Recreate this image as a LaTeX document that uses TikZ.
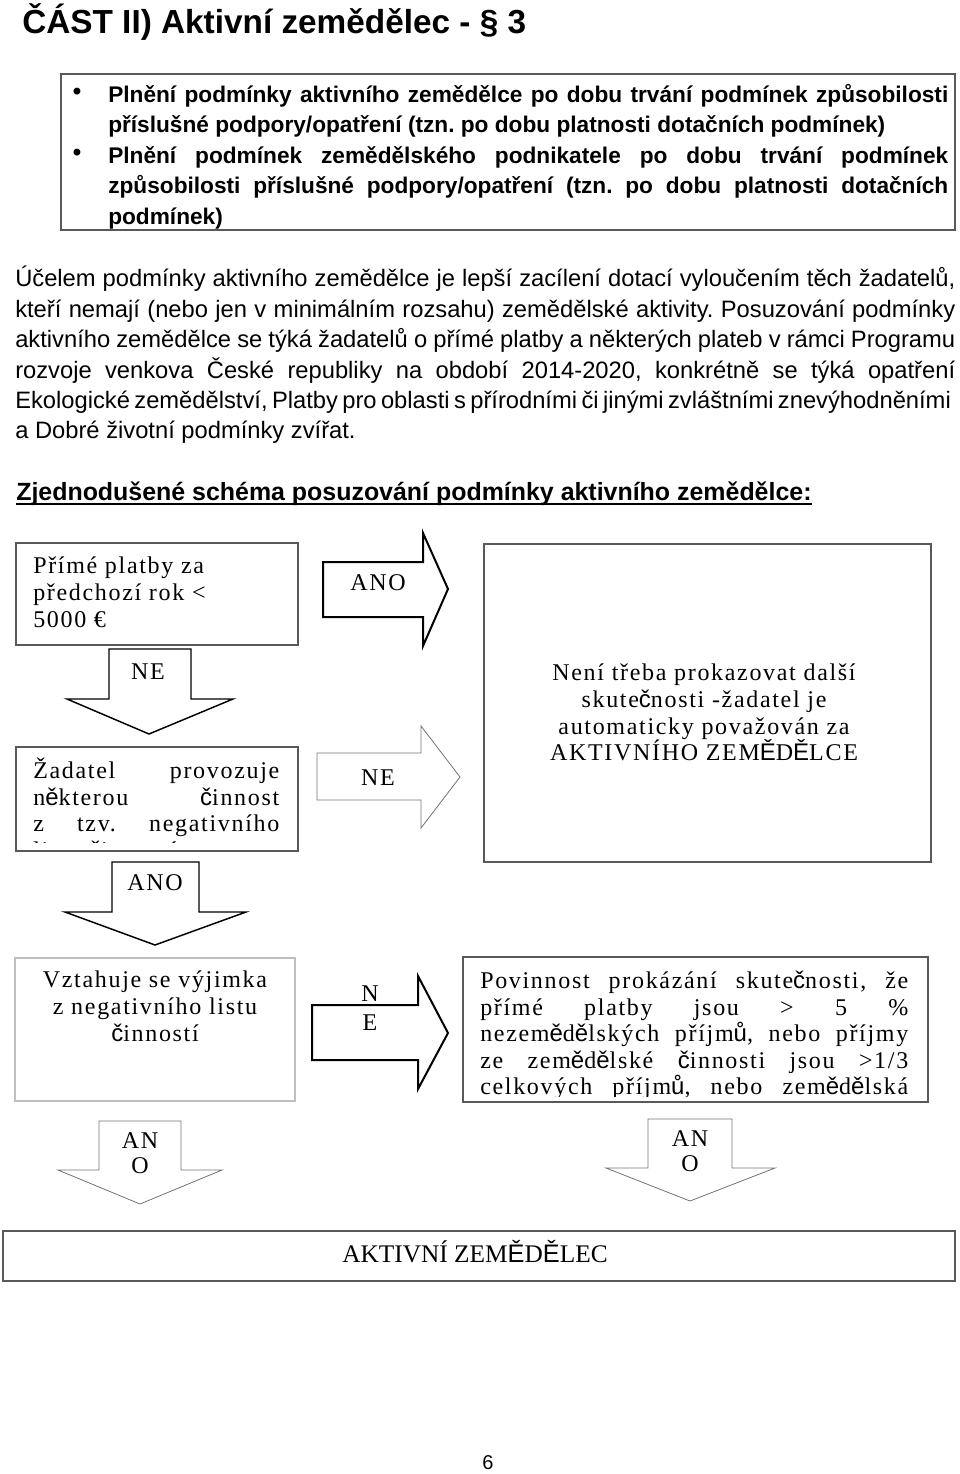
\documentclass[tikz,border=0pt]{standalone}
\usepackage{fontspec}
\setmainfont{Liberation Sans}
\newfontfamily\boxserif[LetterSpace=7]{Liberation Serif}
\newfontfamily\plainserif{Liberation Serif}
\newfontfamily\fallbk[LetterSpace=7]{Liberation Sans}
\newcommand{\fbe}{{\fallbk ě}}
\newcommand{\fbE}{{\fallbk Ě}}
\newcommand{\fbc}{{\fallbk č}}
\newcommand{\fbu}{{\fallbk ů}}
\usetikzlibrary{positioning}

\begin{document}
\frenchspacing
\begin{tikzpicture}[x=0.75pt, y=-0.75pt,
    frame/.style={draw=black!65, line width=0.9pt},
    paleframe/.style={draw=black!25, line width=0.9pt},
    heavyarrow/.style={draw=black, line width=1.5pt},
    blockarrow/.style={draw=black, line width=1.1pt},
    thinarrow/.style={draw=black!55, line width=0.6pt},
    boxtext/.style={font=\boxserif\fontsize{18}{19.9}\selectfont, inner sep=0pt},
    arrowtext/.style={font=\boxserif\fontsize{18}{18.8}\selectfont, inner sep=0pt, align=center}
]
    \useasboundingbox (0,0) rectangle (960,1474);

    % nadpis
    \node[anchor=base west, inner sep=0pt, font=\bfseries\fontsize{25}{30}\selectfont] (title) at (22,33) {ČÁST II) Aktivní zemědělec - § 3};

    % ramecek s odrazkami
    \draw[frame] (61,74) rectangle (955,230);
    \node[anchor=north west, inner sep=0pt, align=left, font=\bfseries\fontsize{17}{22.8}\selectfont] (bullets) at (108,84) {%
        \makebox[630pt][s]{Plnění podmínky aktivního zemědělce po dobu trvání podmínek způsobilosti}\\
        příslušné podpory/opatření (tzn. po dobu platnosti dotačních podmínek)\\
        \makebox[630pt][s]{Plnění podmínek zemědělského podnikatele po dobu trvání podmínek}\\
        \makebox[630pt][s]{způsobilosti příslušné podpory/opatření (tzn. po dobu platnosti dotačních}\\
        podmínek)};
    \node[inner sep=0pt, font=\bfseries\fontsize{18}{20}\selectfont] (dot1) at (77,94) {\textbullet};
    \node[inner sep=0pt, font=\bfseries\fontsize{18}{20}\selectfont] (dot2) at (77,155) {\textbullet};

    % odstavec
    \node[anchor=north west, inner sep=0pt, align=left, font=\fontsize{17.8}{22.8}\selectfont] (para) at (15,266) {%
        \makebox[705pt][s]{Účelem podmínky aktivního zemědělce je lepší zacílení dotací vyloučením těch žadatelů,}\\
        \makebox[705pt][s]{kteří nemají (nebo jen v minimálním rozsahu) zemědělské aktivity. Posuzování podmínky}\\
        \makebox[705pt][s]{aktivního zemědělce se týká žadatelů o přímé platby a některých plateb v rámci Programu}\\
        \makebox[705pt][s]{rozvoje venkova České republiky na období 2014-2020, konkrétně se týká opatření}\\
        \makebox[700pt][s]{Ekologické zemědělství, Platby pro oblasti s přírodními či jinými zvláštními znevýhodněními}\\
        a Dobré životní podmínky zvířat.};

    % nadpis schematu
    \node[anchor=base west, inner sep=0pt, font=\bfseries\fontsize{18.7}{22}\selectfont] (scheme) at (16,500) {Zjednodušené schéma posuzování podmínky aktivního zemědělce:};
    \draw[line width=1.4pt] ([yshift=-3pt]scheme.base west) -- ([yshift=-3pt]scheme.base east);

    % prime platby
    \draw[frame] (16,543) rectangle (298,645);
    \node[boxtext, anchor=north west, align=left] (payments) at (33,557) {Přímé platby za\\ předchozí rok <\\ 5000 €};

    \draw[heavyarrow] (323,562) -- (423,562) -- (423,533) -- (448,589) -- (423,646) -- (423,617) -- (323,617) -- cycle;
    \node[arrowtext] (yes1) at (378,583) {ANO};

    \draw[blockarrow] (109,649) -- (191,649) -- (191,699) -- (233,699) -- (149,734) -- (67,699) -- (109,699) -- cycle;
    \node[arrowtext] (no1) at (148,672) {NE};

    % zadatel provozuje
    \draw[frame] (16,747) rectangle (298,851);
    \begin{scope}
        \clip (16,747) rectangle (298,842);
        \node[boxtext, anchor=north west, align=left] (applicant) at (33,758) {%
            \makebox[184.5pt][s]{Žadatel provozuje}\\
            \makebox[184.5pt][s]{n\fbe kterou \fbc innost}\\
            \makebox[184.5pt][s]{z tzv. negativního}\\
            listu \fbc inností};
    \end{scope}

    \draw[thinarrow] (317,753) -- (421,753) -- (421,726) -- (460,777) -- (421,828) -- (421,800) -- (317,800) -- cycle;
    \node[arrowtext] (no2) at (378,778) {NE};

    % neni treba prokazovat
    \draw[frame] (484,544) rectangle (931,862);
    \node[boxtext, anchor=north, align=center] (auto) at (704,664) {%
        Není třeba prokazovat další\\
        skute\fbc nosti -žadatel je\\
        automaticky považován za\\
        AKTIVNÍHO ZEM\fbE D\fbE LCE};

    \draw[blockarrow] (112,862) -- (199,862) -- (199,912) -- (246,912) -- (155,945) -- (65,912) -- (112,912) -- cycle;
    \node[arrowtext] (yes2) at (155,883) {ANO};

    % vyjimka
    \draw[paleframe] (15,958) rectangle (295,1101);
    \node[boxtext, anchor=north, align=center] (exception) at (155,971) {%
        Vztahuje se výjimka\\
        z negativního listu\\
        \fbc inností};

    \draw[heavyarrow] (312,1005) -- (418,1005) -- (418,976) -- (448,1033) -- (418,1089) -- (418,1060) -- (312,1060) -- cycle;
    \node[arrowtext, font=\boxserif\fontsize{18}{21.8}\selectfont] (no3) at (370,1008) {N\\E};

    % povinnost prokazani
    \draw[frame] (463,957) rectangle (928,1102);
    \begin{scope}
        \clip (463,957) rectangle (928,1096);
        \node[boxtext, anchor=north west, align=left] (proof) at (480,971) {%
            \makebox[321pt][s]{Povinnost prokázání skute\fbc nosti, že}\\
            \makebox[321pt][s]{přímé platby jsou > 5 \%}\\
            \makebox[321pt][s]{nezem\fbe d\fbe lských příjm\fbu, nebo příjmy}\\
            \makebox[321pt][s]{ze zem\fbe d\fbe lské \fbc innosti jsou >1/3}\\
            \makebox[321pt][s]{celkových příjm\fbu, nebo zem\fbe d\fbe lská}};
    \end{scope}

    \draw[thinarrow] (99,1121) -- (181,1121) -- (181,1170) -- (222,1170) -- (140,1204) -- (58,1170) -- (99,1170) -- cycle;
    \node[arrowtext] (yes3) at (140,1153) {AN\\O};

    \draw[thinarrow] (648,1119) -- (732,1119) -- (732,1168) -- (775,1168) -- (690,1201) -- (606,1168) -- (648,1168) -- cycle;
    \node[arrowtext] (yes4) at (690,1151) {AN\\O};

    % aktivni zemedelec
    \draw[frame, line width=1.2pt] (3,1231) rectangle (955,1281);
    \node[anchor=base, inner sep=0pt, font=\plainserif\fontsize{19}{22}\selectfont] (active) at (475,1262) {AKTIVNÍ ZEM\fbE D\fbE LEC};

    \node[inner sep=0pt, font=\fontsize{15}{18}\selectfont] (page) at (488,1463) {6};
\end{tikzpicture}
\end{document}
